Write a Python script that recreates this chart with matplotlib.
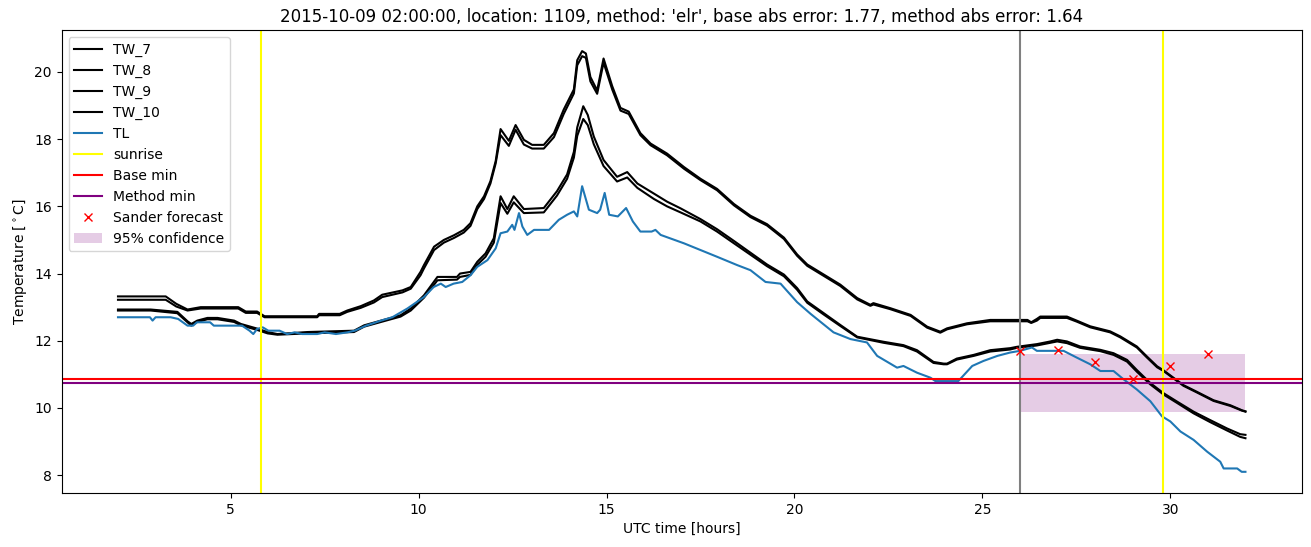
import numpy as np
import matplotlib
matplotlib.use("Agg")
import matplotlib.pyplot as plt

# upper pair of wall temperatures (TW_7, TW_8)
t_up = [2.0, 3.27, 3.55, 3.85, 4.2, 5.2, 5.4, 5.7, 5.9, 7.3, 7.35, 7.9, 8.1, 8.46, 8.81, 9.03,
        9.57, 9.79, 10.05, 10.14, 10.41, 10.67, 10.94, 11.2, 11.38, 11.56, 11.74, 11.91, 12.05,
        12.18, 12.4, 12.58, 12.8, 13.02, 13.33, 13.6, 13.86, 14.13, 14.22, 14.35, 14.45, 14.57,
        14.75, 14.92, 15.15, 15.37, 15.59, 15.9, 16.17, 16.61, 17.06, 17.5, 17.94, 18.39, 18.83,
        19.27, 19.72, 20.07, 20.34, 20.78, 21.22, 21.67, 22.02, 22.1, 22.55, 23.09, 23.53, 23.88,
        24.06, 24.59, 25.21, 26.2, 26.3, 26.45, 26.54, 27.25, 27.51, 27.87, 28.4, 28.67, 29.11,
        29.38, 29.65, 29.82, 30.0, 30.35, 30.71, 31.15, 31.6, 31.91, 32.0]
tw7 = [13.32, 13.32, 13.1, 12.93, 13.0, 13.0, 12.87, 12.87, 12.73, 12.73, 12.8, 12.8, 12.9, 13.03,
       13.2, 13.37, 13.5, 13.6, 14.05, 14.25, 14.8, 15.0, 15.14, 15.3, 15.5, 16.0, 16.3, 16.75,
       17.35, 18.3, 17.95, 18.42, 17.98, 17.83, 17.83, 18.18, 18.88, 19.48, 20.35, 20.62, 20.55,
       19.85, 19.45, 20.4, 19.58, 18.93, 18.82, 18.18, 17.87, 17.57, 17.17, 16.82, 16.52, 16.07,
       15.72, 15.47, 15.07, 14.57, 14.27, 13.97, 13.67, 13.27, 13.07, 13.12, 12.97, 12.77, 12.42,
       12.27, 12.37, 12.52, 12.62, 12.62, 12.55, 12.65, 12.72, 12.72, 12.6, 12.43, 12.28, 12.13,
       11.83, 11.53, 11.24, 11.12, 10.97, 10.68, 10.48, 10.23, 10.08, 9.93, 9.9]
tw8 = [13.22, 13.22, 13.02, 12.9, 12.96, 12.96, 12.83, 12.83, 12.7, 12.7, 12.76, 12.76, 12.86,
       12.98, 13.14, 13.3, 13.44, 13.55, 13.95, 14.15, 14.7, 14.92, 15.06, 15.22, 15.42, 15.92,
       16.22, 16.68, 17.28, 18.12, 17.8, 18.28, 17.84, 17.72, 17.72, 18.06, 18.75, 19.36, 20.2,
       20.47, 20.42, 19.72, 19.35, 20.28, 19.48, 18.85, 18.75, 18.12, 17.82, 17.52, 17.12, 16.78,
       16.48, 16.03, 15.68, 15.43, 15.03, 14.53, 14.23, 13.93, 13.63, 13.23, 13.04, 13.08, 12.94,
       12.74, 12.39, 12.24, 12.34, 12.49, 12.58, 12.58, 12.53, 12.6, 12.68, 12.68, 12.57, 12.4,
       12.25, 12.1, 11.8, 11.5, 11.21, 11.1, 10.95, 10.66, 10.46, 10.21, 10.06, 9.92, 9.89]

# lower pair of wall temperatures (TW_9, TW_10)
t_low = [2.0, 2.87, 3.58, 3.85, 3.95, 4.11, 4.38, 4.65, 5.09, 5.27, 5.71, 5.98, 6.24, 7.04, 8.28,
         8.55, 9.0, 9.52, 9.79, 10.14, 10.5, 11.02, 11.1, 11.38, 11.56, 11.78, 12.0, 12.18, 12.36,
         12.53, 12.8, 13.33, 13.68, 13.95, 14.13, 14.22, 14.38, 14.5, 14.66, 14.92, 15.28, 15.55,
         15.82, 16.26, 16.61, 16.97, 17.5, 17.94, 18.39, 18.83, 19.27, 19.72, 20.07, 20.34, 20.78,
         21.22, 21.67, 22.37, 22.9, 23.26, 23.7, 23.97, 24.06, 24.32, 24.77, 25.21, 25.74, 25.92,
         26.45, 26.81, 26.99, 27.25, 27.6, 28.14, 28.49, 28.85, 29.11, 29.47, 29.82, 30.18, 30.62,
         31.06, 31.51, 31.86, 32.0]
tw9 = [12.93, 12.93, 12.86, 12.58, 12.5, 12.6, 12.68, 12.68, 12.6, 12.5, 12.36, 12.26, 12.2, 12.26,
       12.3, 12.46, 12.6, 12.76, 12.96, 13.35, 13.9, 13.9, 14.0, 14.05, 14.35, 14.6, 15.05, 16.3,
       15.92, 16.3, 15.92, 15.95, 16.45, 16.95, 17.62, 18.35, 18.98, 18.72, 18.08, 17.38, 16.88,
       17.02, 16.68, 16.38, 16.14, 15.94, 15.62, 15.32, 14.97, 14.62, 14.27, 13.97, 13.57, 13.17,
       12.82, 12.47, 12.12, 11.97, 11.87, 11.72, 11.37, 11.32, 11.32, 11.47, 11.58, 11.72, 11.78,
       11.82, 11.9, 11.98, 12.03, 11.98, 11.83, 11.73, 11.63, 11.43, 11.13, 10.74, 10.44, 10.19,
       9.89, 9.64, 9.39, 9.22, 9.2]
tw10 = [12.9, 12.9, 12.82, 12.55, 12.45, 12.56, 12.64, 12.64, 12.56, 12.46, 12.32, 12.22, 12.18,
        12.22, 12.26, 12.42, 12.56, 12.72, 12.9, 13.28, 13.8, 13.82, 13.9, 13.96, 14.26, 14.5,
        14.92, 16.1, 15.78, 16.12, 15.8, 15.82, 16.32, 16.82, 17.45, 18.1, 18.6, 18.42, 17.85,
        17.2, 16.74, 16.86, 16.55, 16.22, 16.0, 15.82, 15.55, 15.25, 14.9, 14.56, 14.22, 13.92,
        13.52, 13.13, 12.78, 12.44, 12.1, 11.94, 11.84, 11.68, 11.34, 11.3, 11.3, 11.44, 11.55,
        11.68, 11.74, 11.79, 11.86, 11.94, 11.98, 11.93, 11.79, 11.69, 11.58, 11.38, 11.08, 10.7,
        10.4, 10.15, 9.84, 9.58, 9.33, 9.14, 9.1]

# air temperature
t_tl = [2.0, 2.85, 2.92, 3.0, 3.4, 3.6, 3.85, 4.0, 4.1, 4.45, 4.55, 5.3, 5.5, 5.6, 5.7, 5.85, 6.0,
        6.3, 6.5, 6.7, 6.9, 7.3, 7.5, 7.8, 8.1, 8.3, 8.6, 9.0, 9.3, 9.7, 10.14, 10.4, 10.59, 10.72,
        10.93, 11.16, 11.38, 11.56, 11.83, 12.05, 12.18, 12.36, 12.49, 12.55, 12.67, 12.76, 12.89,
        13.07, 13.47, 13.73, 13.95, 14.13, 14.22, 14.35, 14.53, 14.75, 14.83, 14.95, 15.07, 15.3,
        15.52, 15.7, 15.9, 16.2, 16.3, 16.44, 17.06, 17.5, 17.94, 18.48, 18.83, 19.23, 19.63,
        20.07, 20.43, 21.04, 21.49, 21.93, 22.2, 22.73, 22.9, 23.26, 23.62, 23.75, 24.36, 24.73,
        25.03, 25.4, 25.74, 26.0, 26.32, 26.45, 27.16, 27.51, 27.87, 28.14, 28.49, 28.76, 29.11,
        29.47, 29.78, 30.0, 30.27, 30.62, 30.98, 31.33, 31.42, 31.78, 31.9, 32.0]
tl = [12.7, 12.7, 12.6, 12.7, 12.7, 12.65, 12.45, 12.45, 12.55, 12.55, 12.45, 12.45, 12.3, 12.2,
      12.35, 12.4, 12.3, 12.3, 12.2, 12.25, 12.2, 12.2, 12.25, 12.2, 12.25, 12.3, 12.45, 12.6,
      12.7, 12.96, 13.3, 13.6, 13.7, 13.6, 13.7, 13.75, 13.95, 14.2, 14.4, 14.75, 15.2, 15.25,
      15.45, 15.3, 15.8, 15.4, 15.15, 15.3, 15.3, 15.6, 15.75, 15.85, 15.7, 16.6, 15.9, 15.8,
      15.9, 16.4, 15.75, 15.7, 15.95, 15.55, 15.25, 15.25, 15.3, 15.15, 14.9, 14.7, 14.5, 14.25,
      14.1, 13.75, 13.7, 13.15, 12.8, 12.25, 12.05, 11.95, 11.55, 11.2, 11.25, 11.05, 10.9, 10.8,
      10.8, 11.25, 11.4, 11.55, 11.65, 11.7, 11.8, 11.7, 11.7, 11.5, 11.3, 11.1, 11.1, 10.85,
      10.55, 10.2, 9.75, 9.6, 9.3, 9.05, 8.7, 8.4, 8.2, 8.2, 8.1, 8.1]

sunrise = [5.8, 29.8]
forecast_start = 26.0
base_min = 10.87
method_min = 10.74
sander_t = [26, 27, 28, 29, 30, 31]
sander = [11.69, 11.74, 11.36, 10.87, 11.24, 11.61]
conf_t = [26, 32]
conf_low = [9.89, 9.89]
conf_high = [11.61, 11.61]

fig, ax = plt.subplots(figsize=(13.11, 5.47))
fig.subplots_adjust(left=0.047, right=0.993, top=0.945, bottom=0.099)

ax.plot(t_up, tw7, color='black', label='TW_7')
ax.plot(t_up, tw8, color='black', label='TW_8')
ax.plot(t_low, tw9, color='black', label='TW_9')
ax.plot(t_low, tw10, color='black', label='TW_10')
ax.plot(t_tl, tl, color='C0', label='TL')
for i, s in enumerate(sunrise):
    ax.axvline(s, color='yellow', label='sunrise' if i == 0 else None)
ax.axvline(forecast_start, color='grey')
ax.axhline(base_min, color='red', label='Base min')
ax.axhline(method_min, color='purple', label='Method min')
ax.plot(sander_t, sander, 'rx', label='Sander forecast')
ax.fill_between(conf_t, conf_low, conf_high, color='purple', alpha=0.2, linewidth=0,
                label='95% confidence')

ax.set_title("2015-10-09 02:00:00, location: 1109, method: 'elr', base abs error: 1.77, "
             "method abs error: 1.64")
ax.set_xlabel('UTC time [hours]')
ax.set_ylabel(r'Temperature [$^\circ$C]')
ax.legend(loc='upper left')

fig.savefig('out.png', dpi=100)
